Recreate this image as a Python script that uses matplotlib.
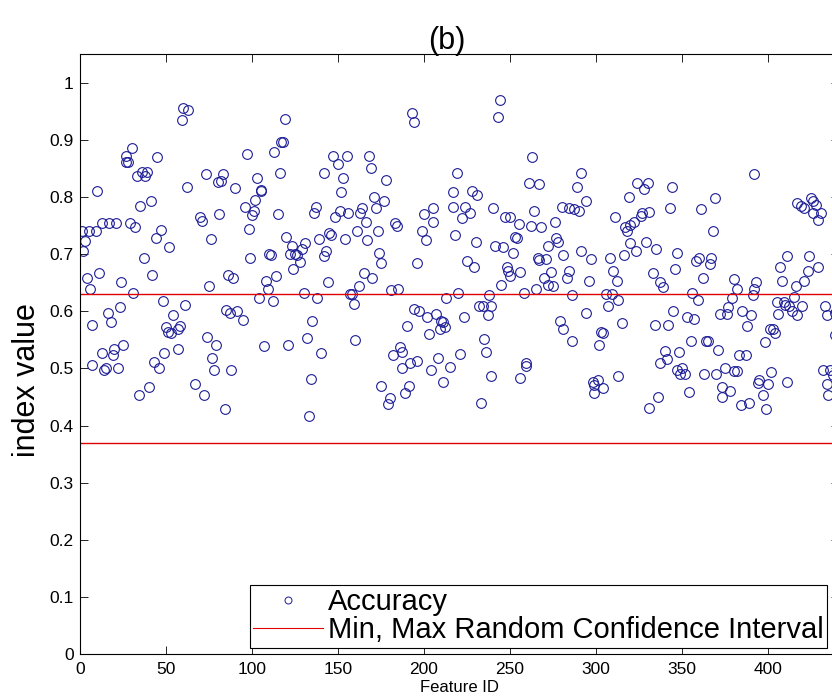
import matplotlib
matplotlib.use("Agg")
import matplotlib.pyplot as plt
from matplotlib.lines import Line2D

plt.rcParams['font.family'] = ['Liberation Sans', 'DejaVu Sans']

# feature id / accuracy (left to right)
feature_id = [
    60, 63, 59, 30, 27, 27, 28, 45, 33, 36, 38, 39, 62, 10, 41, 35, 1, 5, 9, 13,
    17, 21, 29, 32, 3, 2, 47, 44, 52, 37, 11, 4, 6, 24, 42, 31, 48, 61, 23, 16,
    54, 7, 18, 50, 51, 53, 57, 58, 25, 20, 19, 13, 7, 14, 15, 22, 49, 57, 43, 46,
    34, 40,
    119, 117, 118, 113, 97, 116, 73, 83, 80, 82, 90, 103, 105, 105, 102, 96, 101, 100, 70, 71,
    81, 115, 137, 136, 98, 76, 120, 123, 131, 129, 139, 110, 111, 99, 122, 125, 126, 128, 124, 86,
    89, 75, 108, 114, 109, 104, 112, 130, 138, 85, 87, 91, 95, 135, 74, 79, 107, 121, 132, 140,
    77, 78, 88, 134, 67, 72, 84, 133,
    193, 194, 147, 150, 155, 168, 169, 142, 153, 178, 152, 171, 177, 172, 164, 163, 151, 148, 156, 166,
    161, 167, 173, 183, 184, 145, 146, 154, 143, 142, 174, 175, 200, 205, 205, 199, 201, 196, 144, 165,
    170, 162, 157, 158, 159, 181, 185, 213, 194, 197, 202, 207, 210, 211, 212, 209, 190, 203, 160, 186,
    187, 182, 192, 196, 187, 208, 204, 215, 211, 175, 191, 189, 180, 179,
    244, 243, 263, 219, 291, 261, 267, 289, 217, 228, 231, 217, 224, 222, 227, 240, 247, 250, 264, 255,
    262, 268, 276, 280, 284, 287, 290, 218, 230, 253, 254, 241, 246, 252, 277, 278, 272, 281, 291, 225,
    229, 266, 267, 271, 248, 249, 250, 256, 274, 270, 272, 275, 283, 284, 245, 265, 258, 220, 238, 286,
    232, 234, 239, 237, 223, 279, 281, 286, 235, 236, 221, 259, 259, 239, 256, 233,
    294, 324, 330, 328, 344, 319, 343, 361, 311, 331, 327, 326, 322, 320, 317, 318, 320, 323, 329, 335,
    347, 316, 308, 297, 358, 360, 366, 310, 333, 346, 296, 312, 337, 339, 362, 306, 309, 313, 307, 356,
    359, 294, 315, 334, 342, 345, 353, 357, 303, 304, 302, 355, 364, 365, 340, 341, 337, 348, 347, 350,
    349, 352, 363, 298, 299, 301, 304, 299, 313, 354, 336, 331,
    392, 369, 368, 367, 417, 419, 421, 425, 426, 428, 426, 431, 429, 411, 407, 424, 429, 423, 408, 421,
    416, 380, 382, 393, 392, 391, 379, 377, 405, 409, 410, 412, 415, 420, 414, 417, 406, 433, 434, 372,
    376, 385, 390, 388, 401, 403, 404, 398, 371, 383, 387, 370, 375, 380, 382, 402, 395, 394, 400, 411,
    373, 378, 373, 397, 384, 389, 399, 432, 436, 434, 435, 439, 439, 438,
]
accuracy = [
    .957, .952, .936, .886, .873, .861, .861, .871, .838, .844, .838, .845, .818, .810, .794, .785, .741, .741, .741, .755,
    .755, .755, .755, .748, .723, .705, .743, .729, .712, .693, .667, .658, .640, .651, .664, .632, .618, .611, .608, .597,
    .594, .577, .581, .573, .564, .563, .570, .575, .542, .534, .524, .527, .506, .497, .501, .500, .528, .534, .511, .500,
    .454, .468,
    .937, .896, .896, .880, .876, .843, .840, .841, .826, .828, .816, .834, .813, .810, .795, .782, .775, .769, .766, .758,
    .770, .770, .782, .772, .744, .726, .731, .715, .719, .710, .726, .700, .699, .694, .700, .700, .698, .687, .674, .664,
    .659, .645, .654, .662, .640, .623, .619, .633, .623, .602, .597, .600, .585, .583, .555, .541, .539, .542, .553, .528,
    .518, .497, .498, .481, .472, .454, .429, .417,
    .947, .931, .872, .858, .872, .872, .851, .843, .833, .830, .809, .801, .793, .781, .781, .773, .776, .766, .772, .757,
    .740, .725, .741, .754, .750, .737, .733, .726, .705, .697, .703, .684, .771, .781, .757, .740, .725, .684, .651, .667,
    .659, .644, .630, .631, .613, .637, .640, .623, .604, .601, .591, .595, .584, .581, .573, .570, .575, .560, .550, .538,
    .529, .524, .509, .513, .500, .519, .498, .502, .477, .470, .470, .457, .449, .437,
    .970, .940, .871, .843, .843, .824, .823, .817, .809, .811, .804, .782, .782, .763, .773, .781, .766, .766, .775, .753,
    .750, .748, .756, .782, .781, .780, .776, .734, .722, .731, .729, .715, .713, .702, .729, .722, .715, .699, .705, .689,
    .677, .694, .690, .692, .678, .670, .662, .669, .669, .658, .647, .645, .658, .671, .647, .639, .633, .632, .628, .629,
    .609, .610, .610, .594, .591, .583, .570, .549, .552, .529, .525, .509, .505, .487, .483, .439,
    .794, .824, .824, .814, .818, .800, .781, .780, .766, .774, .772, .767, .756, .752, .748, .741, .719, .705, .722, .709,
    .703, .699, .694, .692, .688, .693, .683, .671, .668, .674, .653, .653, .651, .643, .659, .630, .631, .620, .610, .633,
    .620, .598, .579, .577, .577, .600, .591, .587, .564, .562, .542, .548, .548, .548, .531, .516, .509, .529, .497, .501,
    .490, .490, .490, .477, .471, .480, .466, .457, .486, .458, .450, .431,
    .840, .799, .740, .694, .789, .784, .781, .798, .793, .786, .773, .772, .760, .697, .678, .697, .678, .671, .653, .653,
    .644, .657, .639, .652, .640, .629, .623, .608, .617, .617, .611, .609, .625, .609, .600, .594, .595, .610, .594, .595,
    .595, .600, .594, .575, .569, .570, .562, .547, .532, .524, .524, .490, .501, .496, .496, .493, .480, .475, .473, .476,
    .468, .461, .450, .454, .436, .439, .429, .497, .497, .473, .454, .598, .558, .488,
]

ci_min = 0.37
ci_max = 0.63
n_features = 441

fig = plt.figure(figsize=(8.32, 6.99), dpi=100)
ax = fig.add_axes([0.0962, 0.0644, 0.9117, 0.8577])

ax.plot(feature_id, accuracy, 'o', mfc='none', mec='#1c1c95', mew=0.8, ms=7)
ax.plot([0, n_features], [ci_max, ci_max], color='#e00000', lw=1.0)
ax.plot([0, n_features], [ci_min, ci_min], color='#e00000', lw=1.0)

ax.set_xlim(0, n_features)
ax.set_ylim(0, 1.05)
ax.set_xticks(range(0, 401, 50))
yt = [i / 10 for i in range(11)]
ax.set_yticks(yt)
ax.set_yticklabels(['0'] + ['%.1f' % v for v in yt[1:-1]] + ['1'])
ax.tick_params(direction='in', top=True, right=True, length=5.5, width=0.6, labelsize=12.5)
ax.tick_params(axis='y', pad=4.5)
ax.tick_params(axis='x', pad=6)
for s in ax.spines.values():
    s.set_linewidth(0.8)

ax.set_title('(b)', fontsize=22, pad=4, x=0.484)
ax.set_ylabel('index value', fontsize=22)
ax.yaxis.set_label_coords(-0.05, 0.457)
ax.set_xlabel('Feature ID', fontsize=12, labelpad=2)

handles = [Line2D([], [], ls='none', marker='o', mfc='none', mec='#1c1c95', mew=0.7, ms=5),
           Line2D([], [], color='#e00000', lw=0.8)]
leg = ax.legend(handles, ['Accuracy', 'Min, Max Random Confidence Interval'],
                loc='lower right', bbox_to_anchor=(827 / 832, 51 / 699),
                bbox_transform=fig.transFigure, borderaxespad=0, fontsize=21,
                fancybox=False, framealpha=1, edgecolor='black',
                handlelength=2.4, handletextpad=0.15, borderpad=0.12, labelspacing=0.0)
leg.get_frame().set_linewidth(0.8)

fig.savefig('out.png', dpi=100)
